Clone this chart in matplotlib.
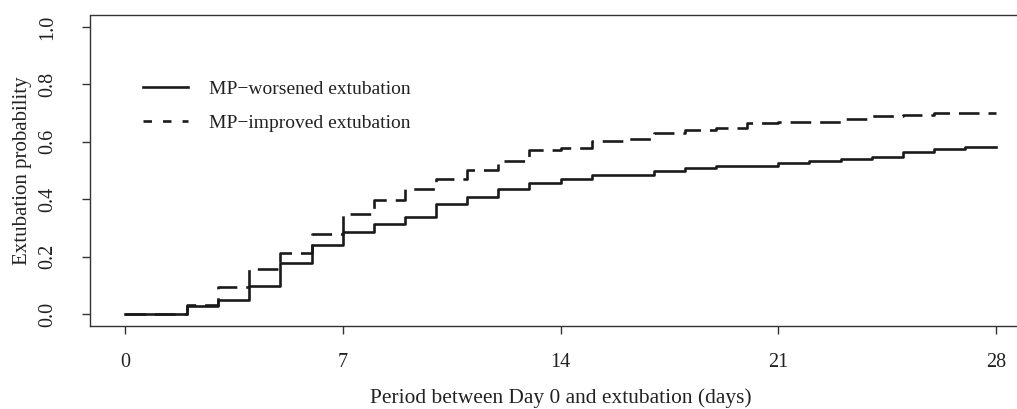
import matplotlib.pyplot as plt
from matplotlib.lines import Line2D

plt.rcParams['font.family'] = ['Liberation Serif', 'DejaVu Serif']

# Kaplan-Meier style step data (day of step -> cumulative probability)
days = [0, 2, 3, 4, 5, 6, 7, 8, 9, 10, 11, 12, 13, 14, 15, 16, 17, 18, 19,
        20, 21, 22, 23, 24, 25, 26, 27, 28]
worsened = [0.0, 0.028, 0.049, 0.098, 0.177, 0.240, 0.287, 0.315, 0.338,
            0.383, 0.406, 0.437, 0.455, 0.469, 0.485, 0.485, 0.499, 0.510,
            0.516, 0.516, 0.527, 0.534, 0.540, 0.548, 0.563, 0.574, 0.583,
            0.583]
improved = [0.0, 0.032, 0.094, 0.158, 0.212, 0.280, 0.348, 0.397, 0.434,
            0.470, 0.502, 0.532, 0.571, 0.580, 0.603, 0.610, 0.632, 0.641,
            0.649, 0.664, 0.668, 0.670, 0.678, 0.691, 0.695, 0.699, 0.701,
            0.701]
labels = ['MP\u2212worsened extubation', 'MP\u2212improved extubation']
xticks = [0, 7, 14, 21, 28]
yticks = [0.0, 0.2, 0.4, 0.6, 0.8, 1.0]

W, H = 1017, 409
fig = plt.figure(figsize=(W / 100, H / 100), dpi=100)
# axes box in pixels: left 90, right 1031 (cropped), top 15.5, bottom 325.5
ax = fig.add_axes([90 / W, (H - 325.5) / H, (1031 - 90) / W, 310 / H])

line_col = '#1a1a1a'
ax.step(days, worsened, where='post', color=line_col, lw=1.9)
ax.step(days, improved, where='post', color=line_col, lw=1.9,
        linestyle=(0, (7.8, 3.4)))

ax.set_xlim(-1.12, 29.12)
ax.set_ylim(-0.04, 1.04)
ax.set_xticks(xticks)
ax.set_yticks(yticks)
ax.set_yticklabels([f'{v:.1f}' for v in yticks], rotation=90, va='center')

for s in ax.spines.values():
    s.set_linewidth(1.0)
    s.set_color('#333333')
ax.tick_params(axis='both', direction='out', length=5.5, width=1.0,
               color='#333333', labelsize=14.5, labelcolor='#222222')
ax.tick_params(axis='x', pad=14)
ax.tick_params(axis='y', pad=18)

fig.text(561 / W, 1 - 398 / H, 'Period between Day 0 and extubation (days)',
         ha='center', va='center', fontsize=15.4, color='#222222')
fig.text(23 / W, 1 - 170.5 / H, 'Extubation probability', rotation=90,
         ha='center', va='center', fontsize=15, color='#222222')

handles = [Line2D([], [], color=line_col, lw=1.9),
           Line2D([], [], color=line_col, lw=1.9, linestyle=(0, (3.2, 4.2)))]
ax.legend(handles, labels, frameon=False, loc='upper left',
          bbox_to_anchor=(45 / 941, 1 - 57 / 310), fontsize=14,
          handlelength=2.3, handletextpad=1.1, labelspacing=0.86,
          labelcolor='#222222', borderaxespad=0)

fig.savefig('out.png', dpi=100)
